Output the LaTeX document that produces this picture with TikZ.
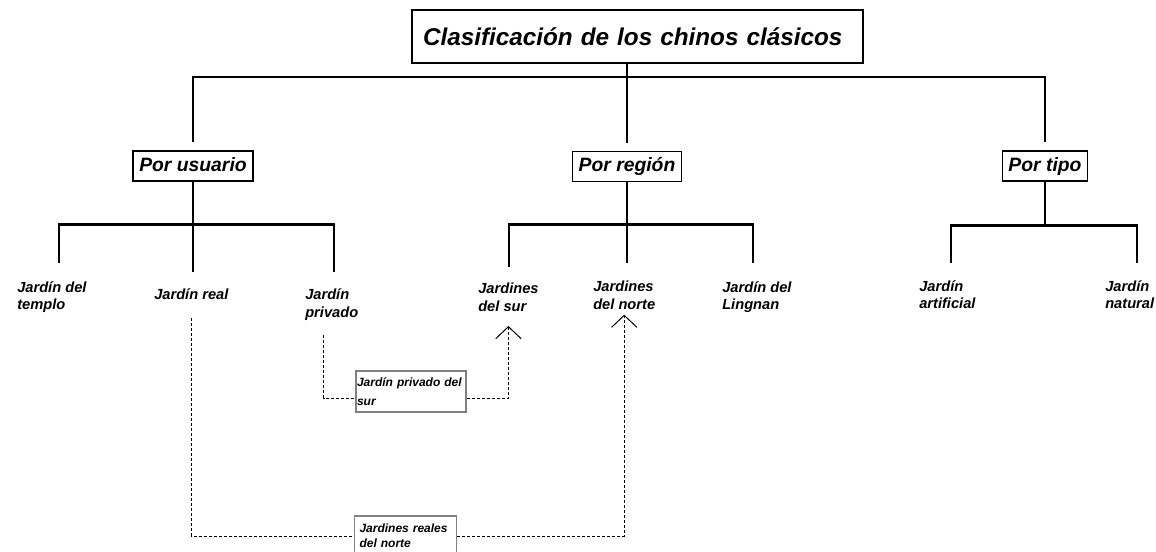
\documentclass[tikz,border=0pt]{standalone}
\usepackage{fontspec}
\setmainfont{Liberation Sans}
\usepackage{tikz}
\usetikzlibrary{arrows.meta, calc}

\begin{document}
\begin{tikzpicture}[x=0.75pt,y=0.75pt,yscale=-1,xscale=1,
        tree/.style={line width=2pt},
        link/.style={line width=0.75pt, dash pattern=on 2.25pt off 1.5pt},
        barb/.style={-{Straight Barb[length=9pt,width=19pt]}},
        catbox/.style={draw, line width=1.2pt, inner xsep=4.5pt, inner ysep=0pt, minimum height=22.5pt, text height=10.8pt, text depth=3.2pt, font=\fontsize{14.5}{17}\selectfont\bfseries\itshape},
        leaf/.style={anchor=north west, inner sep=0.75pt, align=left, font=\fontsize{11}{13}\selectfont\bfseries\itshape},
        notebox/.style={draw=gray, line width=0.8pt, align=left, font=\fontsize{9}{11.25}\selectfont\bfseries\itshape}]
        \useasboundingbox (0,0) rectangle (1156,552);

        % Text Node
        \node [draw, line width=1.5pt, text width=321.75pt, inner xsep=8.25pt, minimum height=39.75pt, align=left, font=\fontsize{18.2}{22}\selectfont\bfseries\itshape] (title) at (637.5,36.5) {Clasificación de los chinos clásicos};
        % Text Node
        \node [catbox] (byuser) at (193,166) {Por usuario};
        % Text Node
        \node [catbox] (byregion) at (627,166.5) {Por región};
        % Text Node
        \node [catbox] (bytype) at (1045,166) {Por tipo};

        % Text Node
        \node [leaf] (templo) at (16,280) {Jardín del\\templo};
        % Text Node
        \node [leaf] (real) at (153,287) {Jardín real};
        % Text Node
        \node [leaf, font=\fontsize{11}{13.5}\selectfont\bfseries\itshape] (privado) at (304,287) {Jardín\\privado};
        % Text Node
        \node [leaf] (sur) at (477,282) {Jardines\\del sur};
        % Text Node
        \node [leaf] (norte) at (592,280) {Jardines\\del norte};
        % Text Node
        \node [leaf] (lingnan) at (721,280) {Jardín del\\Lingnan};
        % Text Node
        \node [leaf] (artificial) at (918,279) {Jardín\\artificial};
        % Text Node
        \node [leaf] (natural) at (1104,279) {Jardín\\natural};

        % Text Node
        \node [notebox, text width=81pt, inner xsep=0.75pt, minimum height=30.75pt, font=\fontsize{9}{14.25}\selectfont\bfseries\itshape] (privbox) at (411,391.5) {Jardín privado del\\sur};
        % Text Node
        \node [notebox, text width=69pt, inner xsep=4pt, minimum height=30pt] (northbox) at (405.5,536) {Jardines reales\\del norte};

        % leg ends
        \coordinate (hub) at (627,77);
        \coordinate (templo-leg) at (59,263);
        \coordinate (real-leg) at (193,272);
        \coordinate (privado-leg) at (334,272);
        \coordinate (sur-leg) at (509,267);
        \coordinate (norte-leg) at (627,263);
        \coordinate (lingnan-leg) at (753,263);
        \coordinate (artificial-leg) at (951,263);
        \coordinate (natural-leg) at (1137,263);

        %Straight Lines
        \draw [tree, shorten >=6pt] (title.south -| hub) -- (byregion.north);
        \draw [tree, shorten <=6pt, shorten >=6pt] (byuser.north) |- (hub) -| (bytype.north);
        %Straight Lines
        \draw [tree] (byuser.south) -- ++(0,43) coordinate (user-bar);
        \draw [tree] (templo-leg) |- (user-bar) -| (privado-leg);
        \draw [tree] (user-bar) -- (real-leg);
        %Straight Lines
        \draw [tree] (byregion.south) -- ++(0,42.5) coordinate (region-bar);
        \draw [tree] (sur-leg) |- (region-bar) -| (lingnan-leg);
        \draw [tree] (region-bar) -- (norte-leg);
        %Straight Lines
        \draw [tree] (bytype.south) -- ++(0,44) coordinate (type-bar);
        \draw [tree] (artificial-leg) |- (type-bar) -| (natural-leg);

        %Dashed Lines
        \draw [link] ($(privado.south)+(-8,14)$) |- ($(privbox.west)+(0,6.5)$);
        \draw [link, barb, shorten >=10pt] ($(privbox.east)+(0,6.5)$) -| (sur.south);
        %Dashed Lines
        \draw [link, shorten <=13.5pt] (real.south) |- (northbox.west);
        \draw [link, barb, shorten >=3pt] (northbox.east) -| (norte.south);

\end{tikzpicture}
\end{document}
